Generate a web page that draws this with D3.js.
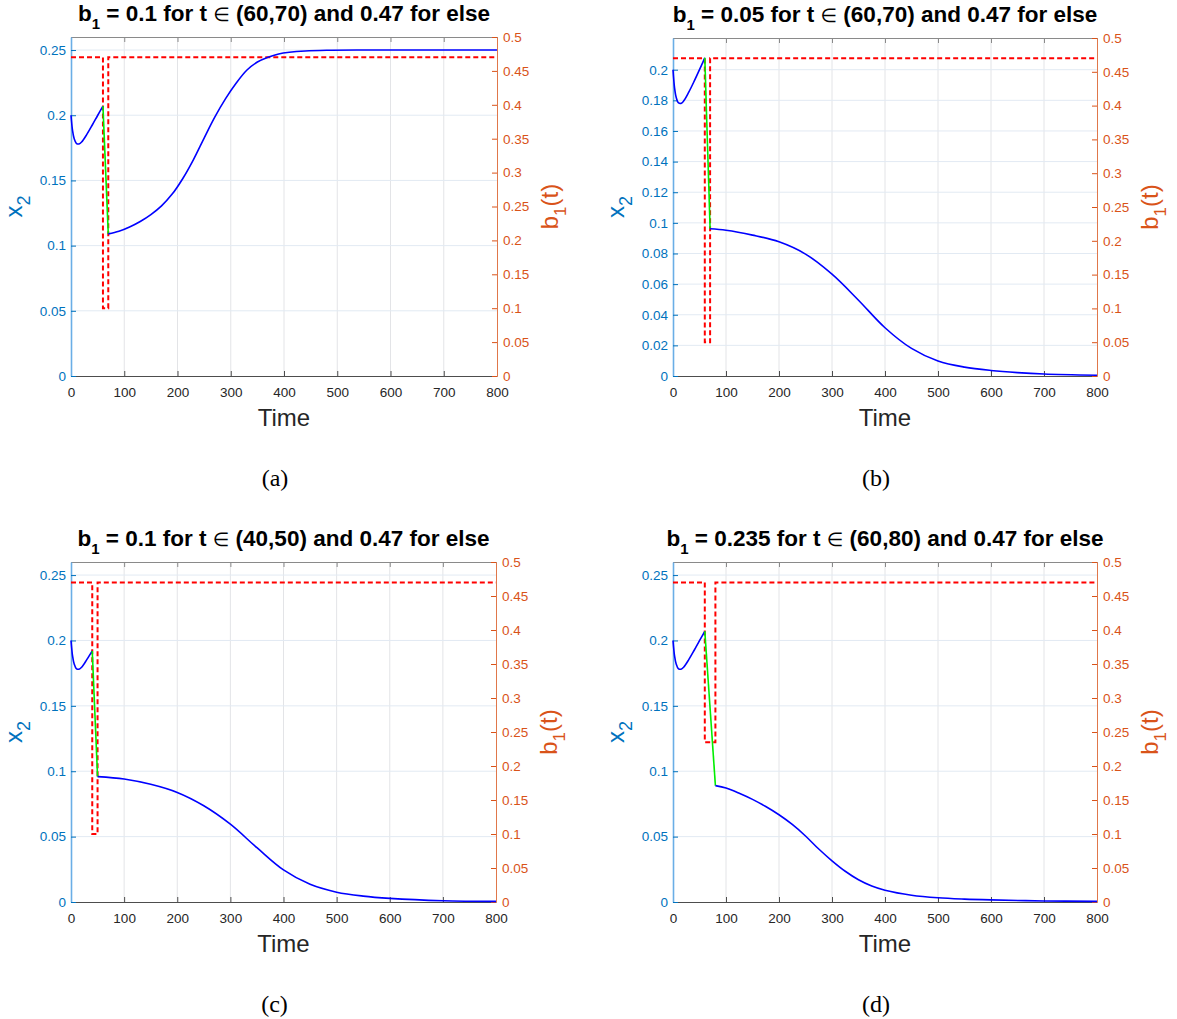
<!DOCTYPE html>
<html>
<head>
<meta charset="utf-8">
<script src="https://cdn.jsdelivr.net/npm/d3@7"></script>
<style>
  body { margin: 0; background: #fff; }
  svg { display: block; font-family: 'Liberation Sans', Arial, Helvetica, sans-serif; }
</style>
</head>
<body>
<script>
const W = 1177, H = 1019;

// ticks
const timeTicks = [0, 100, 200, 300, 400, 500, 600, 700, 800];
const b1Ticks = [0, 0.05, 0.1, 0.15, 0.2, 0.25, 0.3, 0.35, 0.4, 0.45, 0.5];
const x2TicksWide = [0, 0.05, 0.1, 0.15, 0.2, 0.25];
const x2TicksFine = [0, 0.02, 0.04, 0.06, 0.08, 0.1, 0.12, 0.14, 0.16, 0.18, 0.2];

// control b1(t): low value inside window, high value elsewhere
const b1High = 0.47;
const b1Low = [0.1, 0.05, 0.1, 0.235];
const windows = [[60, 70], [60, 70], [40, 50], [60, 80]];
const titleHead = [' = 0.1 for t ', ' = 0.05 for t ', ' = 0.1 for t ', ' = 0.235 for t '];
const titleTail = [' (60,70) and 0.47 for else', ' (60,70) and 0.47 for else', ' (40,50) and 0.47 for else', ' (60,80) and 0.47 for else'];
const captions = ['(a)', '(b)', '(c)', '(d)'];

// x2(t) (window start and end both included)
const timeA = [0, 3, 6, 10, 15, 20, 30, 40, 50, 60, 70, 90, 110, 130, 150, 170, 190, 210, 230, 250, 270, 290, 310, 330, 350, 370, 390, 410, 440, 480, 550, 800];
const x2A = [0.2, 0.188, 0.182, 0.1785, 0.178, 0.1795, 0.1855, 0.1925, 0.1998, 0.207, 0.109, 0.111, 0.1143, 0.1185, 0.1238, 0.1305, 0.1395, 0.1515, 0.166, 0.1825, 0.1985, 0.2125, 0.2245, 0.2345, 0.2408, 0.2445, 0.247, 0.2483, 0.2493, 0.2498, 0.25, 0.25];

const timeB = [0, 3, 6, 10, 15, 20, 30, 40, 50, 60, 70, 100, 150, 200, 250, 300, 350, 400, 450, 500, 550, 600, 650, 700, 800];
const x2B = [0.2, 0.188, 0.182, 0.1785, 0.178, 0.1795, 0.1855, 0.1925, 0.2, 0.2078, 0.0961, 0.0952, 0.092, 0.0876, 0.0796, 0.0665, 0.0495, 0.0315, 0.018, 0.0098, 0.0058, 0.0036, 0.0022, 0.0013, 0.0005];

const timeC = [0, 3, 6, 10, 15, 20, 30, 40, 50, 100, 150, 200, 250, 300, 350, 400, 450, 500, 550, 600, 700, 800];
const x2C = [0.2, 0.188, 0.182, 0.1785, 0.178, 0.1795, 0.1855, 0.192, 0.0959, 0.0941, 0.09, 0.0838, 0.0736, 0.0595, 0.0415, 0.0245, 0.0135, 0.0075, 0.0045, 0.0028, 0.001, 0.0005];

const timeD = [0, 3, 6, 10, 15, 20, 30, 40, 50, 60, 80, 100, 125, 150, 175, 200, 225, 250, 275, 300, 325, 350, 375, 400, 450, 500, 550, 600, 700, 800];
const x2D = [0.2, 0.188, 0.182, 0.1785, 0.178, 0.1795, 0.1855, 0.1925, 0.1998, 0.207, 0.089, 0.0872, 0.0832, 0.0785, 0.073, 0.0667, 0.0593, 0.0505, 0.0405, 0.0315, 0.0235, 0.017, 0.0122, 0.009, 0.0052, 0.0032, 0.0022, 0.0016, 0.0008, 0.0005];

const series = [[timeA, x2A], [timeB, x2B], [timeC, x2C], [timeD, x2D]];

// layout of the four axes boxes
const boxes = [
    { left: 71, top: 37, right: 497, bottom: 376, yMax: 0.26, ticks: x2TicksWide },
    { left: 673, top: 38, right: 1097, bottom: 376, yMax: 0.2207, ticks: x2TicksFine },
    { left: 71, top: 562, right: 496, bottom: 902, yMax: 0.26, ticks: x2TicksWide },
    { left: 673, top: 562, right: 1097, bottom: 902, yMax: 0.26, ticks: x2TicksWide }
];

const blue = '#0072BD', orange = '#D95319';
const fmt = d3.format('~g');

const svg = d3.select('body').append('svg')
    .attr('width', W)
    .attr('height', H)
    .attr('viewBox', '0 0 ' + W + ' ' + H);

boxes.forEach((b, i) => {
    const width = b.right - b.left, height = b.bottom - b.top;
    const [ts, xs] = series[i];
    const [t0, t1] = windows[i];
    const pts = ts.map((t, j) => ({ t: t, v: xs[j] }));

    const xScale = d3.scaleLinear().domain([0, 800]).range([0, width]);
    const yLeft = d3.scaleLinear().domain([0, b.yMax]).range([height, 0]);
    const yRight = d3.scaleLinear().domain([0, 0.5]).range([height, 0]);

    const g = svg.append('g')
        .attr('transform', 'translate(' + b.left + ',' + b.top + ')');

    // gridlines
    g.append('g').selectAll('line')
        .data(timeTicks.slice(1, -1))
        .enter().append('line')
        .attr('x1', d => xScale(d)).attr('x2', d => xScale(d))
        .attr('y1', 0).attr('y2', height)
        .attr('stroke', '#e3e4e7').attr('stroke-width', 1);
    g.append('g').selectAll('line')
        .data(b.ticks.slice(1))
        .enter().append('line')
        .attr('x1', 0).attr('x2', width)
        .attr('y1', d => yLeft(d)).attr('y2', d => yLeft(d))
        .attr('stroke', '#e2eaf3').attr('stroke-width', 1);

    // axes
    const top = g.append('g')
        .call(d3.axisTop(xScale).tickValues(timeTicks).tickSize(-5).tickSizeOuter(0).tickFormat(''));
    top.selectAll('path, line').attr('stroke', '#8a8a8a');

    const bottom = g.append('g')
        .attr('transform', 'translate(0,' + height + ')')
        .call(d3.axisBottom(xScale).tickValues(timeTicks).tickSize(-5).tickSizeOuter(0).tickPadding(11).tickFormat(fmt));
    bottom.selectAll('path, line').attr('stroke', '#4d4d4d');
    bottom.selectAll('text').attr('fill', '#262626').style('font-size', '13.5px');

    const left = g.append('g')
        .call(d3.axisLeft(yLeft).tickValues(b.ticks).tickSize(-5).tickSizeOuter(0).tickPadding(5).tickFormat(fmt));
    left.select('path').attr('stroke', '#6aaee6').attr('stroke-width', 1.6);
    left.selectAll('line').attr('stroke', blue);
    left.selectAll('text').attr('fill', blue).style('font-size', '13.5px');

    const right = g.append('g')
        .attr('transform', 'translate(' + width + ',0)')
        .call(d3.axisRight(yRight).tickValues(b1Ticks).tickSize(-5).tickSizeOuter(0).tickPadding(6).tickFormat(fmt));
    right.select('path').attr('stroke', '#e0774a');
    right.selectAll('line').attr('stroke', orange);
    right.selectAll('text').attr('fill', orange).style('font-size', '13.5px');

    // b1(t) control, dashed
    const ctrl = [[0, b1High], [t0, b1High], [t0, b1Low[i]], [t1, b1Low[i]], [t1, b1High], [800, b1High]];
    g.append('path')
        .attr('d', d3.line().x(d => xScale(d[0])).y(d => yRight(d[1]))(ctrl))
        .attr('fill', 'none')
        .attr('stroke', '#ff0000')
        .attr('stroke-width', 2)
        .attr('stroke-dasharray', '5,3');

    // x2 curve: blue before and after the window, green across it
    const curve = d3.line()
        .x(d => xScale(d.t))
        .y(d => yLeft(d.v))
        .curve(d3.curveCatmullRom.alpha(0.5));
    const before = pts.filter(d => d.t <= t0);
    const after = pts.filter(d => d.t >= t1);
    const across = [before[before.length - 1], after[0]];
    g.append('path').attr('d', curve(before))
        .attr('fill', 'none').attr('stroke', '#0000ff').attr('stroke-width', 1.6);
    g.append('path').attr('d', d3.line().x(d => xScale(d.t)).y(d => yLeft(d.v))(across))
        .attr('fill', 'none').attr('stroke', '#00ee00').attr('stroke-width', 1.6);
    g.append('path').attr('d', curve(after))
        .attr('fill', 'none').attr('stroke', '#0000ff').attr('stroke-width', 1.6);

    // title
    const title = g.append('text')
        .attr('x', width / 2)
        .attr('y', -16)
        .attr('text-anchor', 'middle')
        .style('font-size', '22.5px')
        .style('font-weight', 'bold')
        .attr('fill', '#000');
    title.append('tspan').text('b');
    title.append('tspan').attr('dy', 8).style('font-size', '15px').text('1');
    title.append('tspan').attr('dy', -8).text(titleHead[i]);
    title.append('tspan').style('font-weight', 'normal').style('font-family', "'DejaVu Sans', sans-serif")
        .style('font-size', '19px').text('\u2208');
    title.append('tspan').text(titleTail[i]);

    // x label
    g.append('text')
        .attr('x', width / 2)
        .attr('y', height + 50)
        .attr('text-anchor', 'middle')
        .style('font-size', '24px')
        .attr('fill', '#262626')
        .text('Time');

    // left label x2
    const yl = g.append('text')
        .attr('transform', 'translate(-49,' + (height / 2) + ') rotate(-90)')
        .attr('text-anchor', 'middle')
        .style('font-size', '24px')
        .attr('fill', blue);
    yl.append('tspan').text('x');
    yl.append('tspan').attr('dy', 8).style('font-size', '18px').text('2');

    // right label b1(t)
    const yr = g.append('text')
        .attr('transform', 'translate(' + (width + 61) + ',' + (height / 2) + ') rotate(-90)')
        .attr('text-anchor', 'middle')
        .style('font-size', '24px')
        .attr('fill', orange);
    yr.append('tspan').text('b');
    yr.append('tspan').attr('dy', 8).style('font-size', '17px').text('1');
    yr.append('tspan').attr('dy', -8).text('(t)');

    // sub-figure caption
    g.append('text')
        .attr('x', width / 2 - 9)
        .attr('y', height + 110)
        .attr('text-anchor', 'middle')
        .style('font-family', "'Liberation Serif', 'Times New Roman', serif")
        .style('font-size', '24px')
        .attr('fill', '#000')
        .text(captions[i]);
});
</script>
</body>
</html>
